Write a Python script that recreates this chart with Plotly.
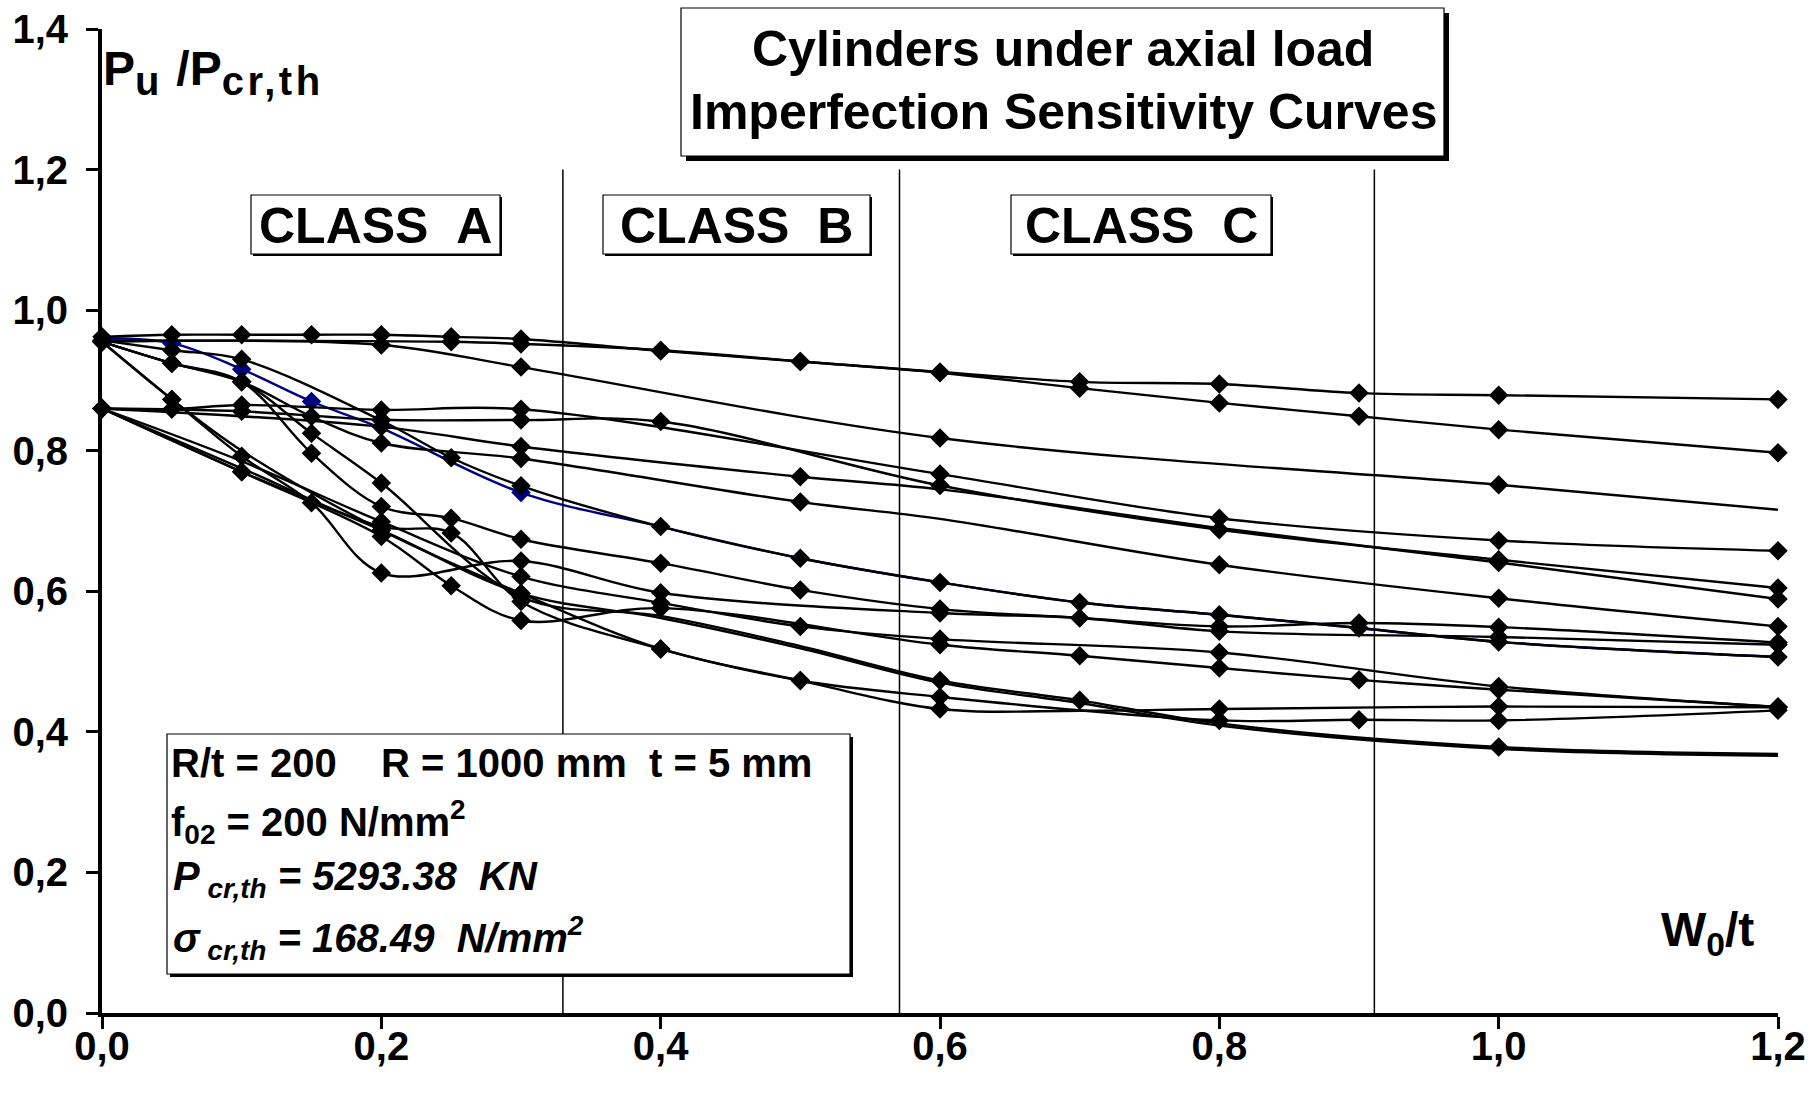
import plotly.graph_objects as go

# ---- data: ultimate load ratio Pu/Pcr,th versus imperfection amplitude W0/t ----
# group starting near 0.96
A1_X = [0, 0.05, 0.1, 0.15, 0.2, 0.25, 0.3, 0.4, 0.5, 0.6, 0.7, 0.8, 0.9, 1.0, 1.2]
A1_Y = [0.962, 0.965, 0.965, 0.965, 0.965, 0.962, 0.959, 0.942, 0.927, 0.912, 0.898, 0.895, 0.882, 0.879, 0.873]

A2_X = [0, 0.25, 0.3, 0.4, 0.5, 0.6, 0.7, 0.8, 0.9, 1.0, 1.2]
A2_Y = [0.957, 0.955, 0.952, 0.943, 0.927, 0.911, 0.889, 0.868, 0.849, 0.830, 0.797]

A3_X = [0, 0.2, 0.3, 0.6, 1.0, 1.2]
A3_Y = [0.955, 0.9505, 0.919, 0.818, 0.7515, 0.716]

A5_X = [0, 0.05, 0.1, 0.2, 0.25, 0.3, 0.4, 0.5, 0.6, 0.7, 0.8, 0.9, 1.0, 1.2]
A5_Y = [0.957, 0.943, 0.930, 0.843, 0.790, 0.750, 0.692, 0.647, 0.6126, 0.584, 0.5666, 0.5477, 0.528, 0.5065]

A6_X = [0, 0.05, 0.1, 0.15, 0.2, 0.3, 0.5, 0.6, 0.8, 1.0, 1.2]
A6_Y = [0.955, 0.9245, 0.898, 0.8486, 0.811, 0.789, 0.727, 0.703, 0.6377, 0.590, 0.550]

A7_X = [0, 0.05, 0.1, 0.15, 0.2, 0.3, 0.4, 0.5, 0.6, 0.7, 0.8, 1.0, 1.2]
A7_Y = [0.955, 0.9245, 0.898, 0.825, 0.754, 0.592, 0.565, 0.522, 0.473, 0.4448, 0.412, 0.3785, 0.3685]

A8_X = [0, 0.05, 0.1, 0.15, 0.2, 0.25, 0.3, 0.4, 0.5, 0.6, 0.7, 0.8, 0.9, 1.0, 1.2]
A8_Y = [0.955, 0.9245, 0.898, 0.7965, 0.7206, 0.704, 0.674, 0.640, 0.602, 0.5747, 0.562, 0.550, 0.5548, 0.549, 0.527]

A9_X = [0, 0.05, 0.1, 0.15, 0.2, 0.3, 0.4, 0.6, 0.7, 0.8, 1.0, 1.2]
A9_Y = [0.955, 0.873, 0.792, 0.726, 0.626, 0.643, 0.598, 0.569, 0.562, 0.543, 0.535, 0.524]

A10_X = [0, 0.05, 0.1, 0.2, 0.3, 0.4, 0.5, 0.6, 0.7, 0.8, 1.0, 1.2]
A10_Y = [0.955, 0.873, 0.800, 0.687, 0.597, 0.518, 0.473, 0.4325, 0.430, 0.4325, 0.436, 0.435]

# highlighted curve (drawn in navy)
BLUE_X = [0, 0.05, 0.1, 0.15, 0.2, 0.3, 0.4, 0.5, 0.6, 0.7, 0.8, 0.9, 1.0, 1.2]
BLUE_Y = [0.960, 0.953, 0.916, 0.870, 0.832, 0.7405, 0.692, 0.647, 0.6126, 0.584, 0.5666, 0.5477, 0.528, 0.5065]

# group starting at 0.86
B1_X = [0, 0.05, 0.1, 0.2, 0.3, 0.6, 0.8, 1.0, 1.2]
B1_Y = [0.86, 0.859, 0.865, 0.858, 0.859, 0.7667, 0.704, 0.6723, 0.6576]

B2_X = [0, 0.1, 0.2, 0.3, 0.4, 0.6, 0.8, 1.0, 1.2]
B2_Y = [0.86, 0.856, 0.844, 0.8436, 0.8415, 0.7505, 0.6875, 0.6448, 0.6046]

B3_X = [0, 0.2, 0.3, 0.5, 0.6, 0.8, 1.0, 1.2]
B3_Y = [0.86, 0.834, 0.806, 0.763, 0.745, 0.690, 0.641, 0.589]

B4_X = [0, 0.1, 0.2, 0.3, 0.4, 0.5, 0.6, 0.8, 1.0, 1.2]
B4_Y = [0.86, 0.785, 0.699, 0.621, 0.5835, 0.550, 0.532, 0.513, 0.4647, 0.4354]

B5_X = [0, 0.1, 0.2, 0.25, 0.3, 0.4, 0.5, 0.6, 0.8, 0.9, 1.0, 1.2]
B5_Y = [0.86, 0.775, 0.692, 0.683, 0.5855, 0.518, 0.473, 0.4496, 0.4163, 0.4173, 0.4163, 0.4306]

B6_X = [0, 0.1, 0.2, 0.25, 0.3, 0.4, 0.6, 0.7, 0.8, 0.9, 1.0, 1.2]
B6_Y = [0.86, 0.770, 0.678, 0.608, 0.5585, 0.576, 0.524, 0.5083, 0.4908, 0.474, 0.460, 0.4354]

B7_X = [0, 0.1, 0.2, 0.3, 0.4, 0.5, 0.6, 0.7, 0.8, 1.0, 1.2]
B7_Y = [0.86, 0.770, 0.687, 0.597, 0.562, 0.519, 0.470, 0.441, 0.409, 0.376, 0.366]

# class limits on the W0/t axis
CLASS_LIMITS = [0.33, 0.571, 0.911]
CLASS_NAMES = ["CLASS\u00a0\u00a0A", "CLASS\u00a0\u00a0B", "CLASS\u00a0\u00a0C"]

Y_TICKS = [0, 0.2, 0.4, 0.6, 0.8, 1.0, 1.2, 1.4]
X_TICKS = [0, 0.2, 0.4, 0.6, 0.8, 1.0, 1.2]

# points drawn without a diamond
NO_MARKER = {
    "A3": [1.2],
    "A6": [0.6],
    "A7": [0.4, 0.5, 0.8, 1.2],
    "A9": [0.7],
    "A10": [0.1, 0.7],
    "B3": [0.6, 0.8],
    "B4": [0.1],
    "B5": [0.1],
    "B7": [0.4, 0.5, 0.6, 0.7, 0.8, 1.0, 1.2],
}

black_series = [
    ("A1", A1_X, A1_Y), ("A2", A2_X, A2_Y), ("A3", A3_X, A3_Y),
    ("A5", A5_X, A5_Y), ("A6", A6_X, A6_Y), ("A7", A7_X, A7_Y),
    ("A8", A8_X, A8_Y), ("A9", A9_X, A9_Y), ("A10", A10_X, A10_Y),
    ("B1", B1_X, B1_Y), ("B2", B2_X, B2_Y), ("B3", B3_X, B3_Y),
    ("B4", B4_X, B4_Y), ("B5", B5_X, B5_Y), ("B6", B6_X, B6_Y),
    ("B7", B7_X, B7_Y),
]

# ---- page geometry: plot area x 102..1778, y 29..1013 ----
W, H = 1814, 1095
ML, MR, MT, MB = 102, 36, 29, 82
PW, PH = W - ML - MR, H - MT - MB
FONT = "Liberation Sans, Arial, sans-serif"
MSIZE = 15
LW = 2.4


def paper(px, py):
    """pixel position on the page -> paper coordinates"""
    return (px - ML) / PW, (H - MB - py) / PH


fig = go.Figure()

# navy curve first, so the black curve sharing its right part sits on top
blue_sizes = [MSIZE if x in (0.05, 0.1, 0.15, 0.3) else 0 for x in BLUE_X]
fig.add_trace(go.Scatter(
    x=BLUE_X, y=BLUE_Y, mode="lines+markers", name="highlight",
    line=dict(color="#000080", width=LW, shape="spline", smoothing=1.0),
    marker=dict(symbol="diamond", size=blue_sizes, color="#000080", opacity=1, line=dict(width=0)),
    cliponaxis=False, showlegend=False,
))

for name, xs, ys in black_series:
    hidden = NO_MARKER.get(name, [])
    sizes = [0 if x in hidden else MSIZE for x in xs]
    fig.add_trace(go.Scatter(
        x=xs, y=ys, mode="lines+markers", name=name,
        line=dict(color="black", width=LW, shape="spline", smoothing=1.0),
        marker=dict(symbol="diamond", size=sizes, color="black", opacity=1, line=dict(width=0)),
        cliponaxis=False, showlegend=False,
    ))

shapes = []
for xv in CLASS_LIMITS:
    shapes.append(dict(type="line", xref="x", yref="y", x0=xv, x1=xv, y0=0, y1=1.2,
                       line=dict(color="black", width=1.5), layer="below"))


def box(x0, y0, x1, y1, shadow=0, lw=1.2):
    out = []
    if shadow:
        a0, b0 = paper(x0 + shadow, y1 + shadow)
        a1, b1 = paper(x1 + shadow, y0 + shadow)
        out.append(dict(type="rect", xref="paper", yref="paper", x0=a0, y0=b0, x1=a1, y1=b1,
                        fillcolor="black", line=dict(width=0), layer="above"))
    a0, b0 = paper(x0, y1)
    a1, b1 = paper(x1, y0)
    out.append(dict(type="rect", xref="paper", yref="paper", x0=a0, y0=b0, x1=a1, y1=b1,
                    fillcolor="white", line=dict(color="black", width=lw), layer="above"))
    return out


# title box, class boxes, data box
shapes += box(681, 8, 1444, 156, shadow=5)
class_boxes = [(251, 195, 500, 254), (603, 195, 870, 254), (1011, 195, 1271, 254)]
for b in class_boxes:
    shapes += box(*b, shadow=2)
shapes += box(167, 734, 850, 974, shadow=3)

annotations = []


def text(px, py, s, size, xanchor="center", yanchor="middle"):
    xp, yp = paper(px, py)
    annotations.append(dict(x=xp, y=yp, xref="paper", yref="paper", text=s, showarrow=False,
                            xanchor=xanchor, yanchor=yanchor,
                            font=dict(family=FONT, size=size, color="black")))


text(1063, 49, "<b>Cylinders under axial load</b>", 50)
text(1063, 112, "<b>Imperfection Sensitivity Curves</b>", 50)
for (x0, y0, x1, y1), label in zip(class_boxes, CLASS_NAMES):
    text((x0 + x1) / 2, (y0 + y1) / 2 + 1, "<b>" + label + "</b>", 50)

SUB_STYLE = "font-size:40px;letter-spacing:3.5px"
text(101, 72, "<b>P<sub><span style='%s'>u</span></sub> /P<sub><span style='%s'>cr,th</span></sub></b>"
     % (SUB_STYLE, SUB_STYLE), 48, xanchor="left")
text(1756, 933, "<b>W<sub>0</sub>/t</b>", 48, xanchor="right")

text(169, 763, "<b>R/t = 200\u00a0\u00a0\u00a0\u00a0R = 1000 mm\u00a0\u00a0t = 5 mm</b>", 40, xanchor="left")
text(169, 822, "<b>f<sub>02</sub> = 200 N/mm<sup>2</sup></b>", 40, xanchor="left")
text(171, 879, "<b><i>P<sub> cr,th</sub> = 5293.38\u00a0\u00a0KN</i></b>", 40, xanchor="left")
text(171, 938, "<b><i>\u03c3<sub> cr,th</sub> = 168.49\u00a0\u00a0N/mm<sup>2</sup></i></b>", 40, xanchor="left")

tick_font = dict(family=FONT, size=40, color="black", weight="bold")

fig.update_layout(
    width=W, height=H, autosize=False,
    margin=dict(l=ML, r=MR, t=MT, b=MB, pad=0, autoexpand=False),
    paper_bgcolor="white", plot_bgcolor="white",
    separators=",.",
    shapes=shapes, annotations=annotations,
    xaxis=dict(range=[0, 1.2], tickvals=X_TICKS, tickformat=".1f", showgrid=False, zeroline=False,
               showline=True, linecolor="black", linewidth=4, ticks="outside", ticklen=12,
               tickwidth=3, tickcolor="black", tickfont=tick_font, ticklabelstandoff=-17,
               automargin=False, ticklabeloverflow="allow"),
    yaxis=dict(range=[0, 1.4], tickvals=Y_TICKS, tickformat=".1f", showgrid=False, zeroline=False,
               showline=True, linecolor="black", linewidth=4, ticks="outside", ticklen=12,
               tickwidth=3, tickcolor="black", tickfont=tick_font, ticklabelstandoff=10,
               automargin=False, ticklabeloverflow="allow"),
)

fig.write_html("out.html")
